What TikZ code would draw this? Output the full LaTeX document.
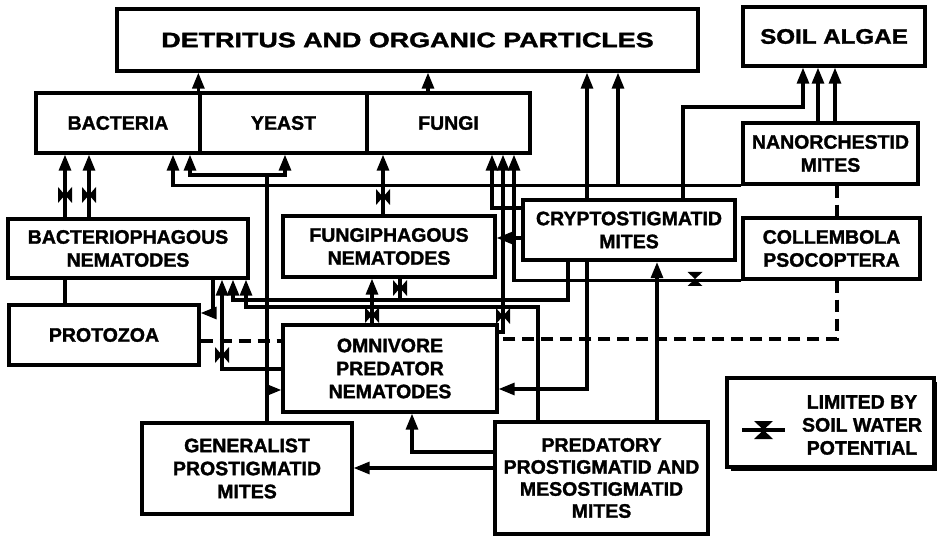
\documentclass[tikz,border=0pt]{standalone}
\usepackage{fontspec}
\setmainfont{Liberation Sans}[BoldFeatures={FakeBold=1.5}]
\usepackage{graphicx}
\usetikzlibrary{arrows.meta}
\newcommand\lbl{\bfseries\fontsize{19.5}{23}\selectfont}
\begin{document}
\begin{tikzpicture}[x=1pt,y=-1pt,
  box/.style={draw,line width=3.3pt,fill=white,inner sep=0pt,align=center,font=\lbl},
  ln/.style={line width=3.1pt},
  arr/.style={ln,-{Triangle[length=16pt,width=12pt]}},
  dsh/.style={ln,dash pattern=on 12pt off 7pt},
  vbow/.pic={\fill (-7,-8)--(0,0)--(-7,8)--cycle (7,-8)--(0,0)--(7,8)--cycle;},
  hbow/.pic={\fill (-7.5,-7)--(0,0)--(7.5,-7)--cycle (-7.5,7)--(0,0)--(7.5,7)--cycle;}]
\useasboundingbox (0,0) rectangle (937,537);
% nodes
\node[box,minimum width=581pt,minimum height=62pt] (title) at (407.5,40)
  {\fontsize{21}{24}\selectfont\scalebox{1.28}[1]{DETRITUS AND ORGANIC PARTICLES}};
\node[box,minimum width=182pt,minimum height=59pt] (algae) at (834,36.5)
  {\fontsize{21}{24}\selectfont\scalebox{1.15}[1]{SOIL ALGAE}};
\node[box,minimum width=164pt,minimum height=60pt] (bact) at (118,123) {BACTERIA};
\node[box,minimum width=167pt,minimum height=60pt] (yeast) at (283.5,123) {YEAST};
\node[box,minimum width=163pt,minimum height=60pt] (fungi) at (448.5,123) {FUNGI};
\node[box,minimum width=175pt,minimum height=61pt] (nano) at (830.5,153.5) {NANORCHESTID\\MITES};
\node[box,minimum width=240pt,minimum height=59pt] (bphag) at (128,248.5) {BACTERIOPHAGOUS\\NEMATODES};
\node[box,minimum width=212pt,minimum height=61pt] (fphag) at (389,246.5) {FUNGIPHAGOUS\\NEMATODES};
\node[box,line width=4.2pt,minimum width=212pt,minimum height=60pt] (crypto) at (629,230) {CRYPTOSTIGMATID\\MITES};
\node[box,minimum width=177pt,minimum height=61pt] (coll) at (831.5,248.5) {COLLEMBOLA\\PSOCOPTERA};
\node[box,minimum width=190pt,minimum height=60pt] (proto) at (104,335) {PROTOZOA};
\node[box,minimum width=214pt,minimum height=87pt] (omni) at (390,368.5) {OMNIVORE\\PREDATOR\\NEMATODES};
\node[box,minimum width=210pt,minimum height=91pt] (gen) at (247,468.5) {GENERALIST\\PROSTIGMATID\\MITES};
\node[box,minimum width=213pt,minimum height=112pt,font=\bfseries\fontsize{19.5}{22}\selectfont] (pred) at (601.5,478)
  {PREDATORY\\PROSTIGMATID AND\\MESOSTIGMATID\\MITES};
% legend
\fill (731,382) rectangle (937,471);
\node[box,minimum width=207pt,minimum height=89pt] (legend) at (830.5,422.5) {};
\node[font=\lbl,align=center,inner sep=0pt] (legtext) at (862,425) {LIMITED BY\\SOIL WATER\\POTENTIAL};
\coordinate (lega) at (742,430);
\coordinate (legb) at (785,430);
\draw[ln] (lega) -- (legb);
\fill (754,421)--(773,421)--(763.5,430)--cycle (754,439)--(773,439)--(763.5,430)--cycle;
% connectors
\draw[arr] (yeast.north west) -- (yeast.north west |- title.south);
\draw[arr] (fungi.north -| 428,0) -- (428,0 |- title.south);
\foreach \x in {65,89} {
  \draw[arr] (bphag.north -| \x,0) -- (bact.south -| \x,0);
  \pic at (\x,195) {vbow};
}
\draw[arr] (gen.north -| 267,0) -- (267,175) -| (bact.south -| 190,0);
\draw[arr] (267,175) -| (yeast.south -| 285,0);
\draw[arr] (267,390) -- (omni.west |- 0,390);
\draw[arr] (nano.south west) -| (bact.south -| 173,0);
\draw[arr] (nano.south west -| 618,0) -- (618,0 |- title.south);
\draw[arr] (crypto.north -| 587,0) -- (587,0 |- title.south);
\draw[arr] (crypto.north -| 683,0) |- (803,107) -- (algae.south -| 803,0);
\foreach \x in {818,835} \draw[arr] (nano.north -| \x,0) -- (algae.south -| \x,0);
\draw[dsh] (nano.south -| 837,0) -- (coll.north -| 837,0);
\draw[dsh] (coll.south -| 837,0) |- (omni.east |- 0,339);
\draw[dsh] (proto.east |- 0,341) -- (omni.west |- 0,341);
\draw[arr] (fphag.north -| 383,0) -- (fungi.south -| 383,0);
\pic at (383,197) {vbow};
\draw[arr] (crypto.west |- 0,208) -| (fungi.south -| 492,0);
\draw[arr] (omni.east |- 0,332) -| (fungi.south -| 503,0);
\pic at (503,316) {vbow};
\draw[arr] (coll.south west) -| (fungi.south -| 514,0);
\pic at (695,279) {hbow};
\draw[arr] (crypto.west |- 0,238) -- (fphag.east |- 0,238);
\draw[arr] (crypto.south -| 568,0) |- (233,300) -- (bphag.south -| 233,0);
\draw[ln] (fphag.south -| 400,0) -- (400,300);
\pic at (400,288) {vbow};
\draw[arr] (pred.north -| 538,0) |- (246,307) -- (bphag.south -| 246,0);
\draw[arr] (omni.west |- 0,369) -| (bphag.south -| 222,0);
\pic at (222,355) {vbow};
\draw[arr] (bphag.south -| 213,0) |- (proto.east |- 0,313);
\draw[ln] (bphag.south -| 65,0) -- (proto.north -| 65,0);
\draw[arr] (omni.north -| 372,0) -- (fphag.south -| 372,0);
\pic at (372,315) {vbow};
\draw[arr] (crypto.south -| 587,0) |- (omni.east |- 0,389);
\draw[arr] (pred.north -| 657,0) -- (crypto.south -| 657,0);
\draw[arr] (pred.west |- 0,452) -| (omni.south -| 412,0);
\draw[arr] (pred.west |- 0,468) -- (gen.east |- 0,468);
\end{tikzpicture}
\end{document}
